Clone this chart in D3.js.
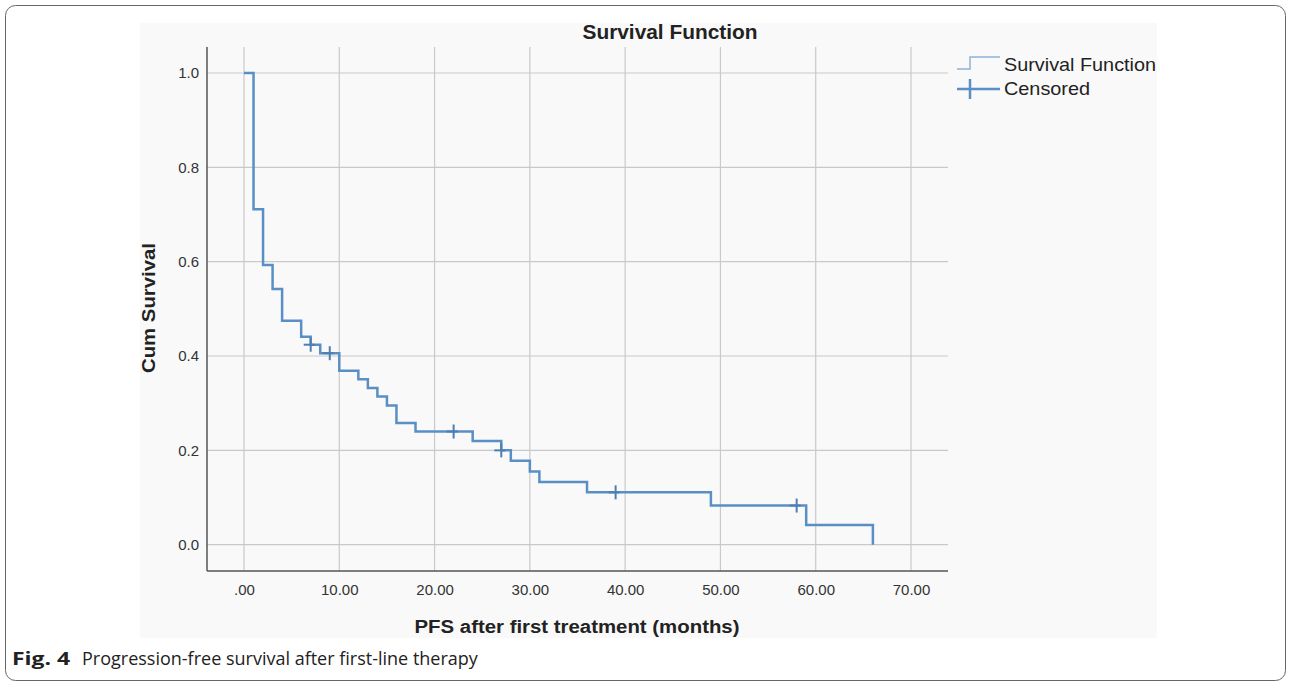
<!doctype html>
<html>
<head>
<script src="https://cdnjs.cloudflare.com/ajax/libs/d3/7.8.5/d3.min.js"></script>
<style>
  body { margin: 0; background: #fff; }
  text { font-family: "Liberation Sans", Arial, sans-serif; fill: #222; }
</style>
</head>
<body>
<svg id="chart" width="1290" height="682"></svg>
<script>
// step times (months) and cumulative survival after each step
var stepTimes = [0, 1, 2, 3, 4, 6, 7, 8, 10, 12, 13, 14, 15, 16, 18, 24, 27, 28, 30, 31, 36, 49, 59, 66];
var stepSurv  = [1.0, 0.711, 0.593, 0.542, 0.475, 0.441, 0.424, 0.406, 0.369, 0.351, 0.332, 0.314, 0.295, 0.258, 0.240, 0.220, 0.200, 0.178, 0.155, 0.133, 0.111, 0.083, 0.042, 0.0];
// censored observations
var censorTimes = [7, 9, 22, 27, 39, 58];
var censorSurv  = [0.424, 0.406, 0.240, 0.200, 0.111, 0.083];

var xTicks = [0, 10, 20, 30, 40, 50, 60, 70];
var yTicks = [0, 0.2, 0.4, 0.6, 0.8, 1.0];

var svg = d3.select("#chart");

// outer frame + grey panel
svg.append("rect").attr("x", 5.5).attr("y", 5.5).attr("width", 1280).attr("height", 675)
  .attr("rx", 10).attr("fill", "#fff").attr("stroke", "#666").attr("stroke-width", 1);
svg.append("rect").attr("x", 140).attr("y", 23).attr("width", 1017).attr("height", 615)
  .attr("fill", "#f9f9f9");

var plotL = 207, plotR = 948, plotT = 47, plotB = 571;
var x = d3.scaleLinear().domain([0, 70]).range([244, 911]);
var y = d3.scaleLinear().domain([0, 1]).range([544.7, 73]);

// grid
svg.append("g").selectAll("line").data(yTicks).enter().append("line")
  .attr("x1", plotL).attr("x2", plotR).attr("y1", d => y(d)).attr("y2", d => y(d))
  .attr("stroke", "#c9c9c9").attr("stroke-width", 1.2);
svg.append("g").selectAll("line").data(xTicks).enter().append("line")
  .attr("x1", d => x(d)).attr("x2", d => x(d)).attr("y1", plotT).attr("y2", plotB)
  .attr("stroke", "#c9c9c9").attr("stroke-width", 1.2);

// axes
var xAxis = d3.axisBottom(x).tickValues(xTicks).tickSize(0).tickPadding(13)
  .tickFormat(d => d === 0 ? ".00" : d3.format(".2f")(d));
svg.append("g").attr("transform", "translate(0," + plotB + ")").call(xAxis)
  .call(g => g.select(".domain").remove())
  .selectAll("text").style("font-size", "15px").style("font-family", "'Liberation Sans', Arial, sans-serif").style("fill", "#333");
var yAxis = d3.axisLeft(y).tickValues(yTicks).tickSize(0).tickPadding(8)
  .tickFormat(d3.format(".1f"));
svg.append("g").attr("transform", "translate(" + plotL + ",0)").call(yAxis)
  .call(g => g.select(".domain").remove())
  .selectAll("text").style("font-size", "15px").style("font-family", "'Liberation Sans', Arial, sans-serif").style("fill", "#333");

svg.append("line").attr("x1", plotL).attr("x2", plotL).attr("y1", plotT).attr("y2", plotB)
  .attr("stroke", "#555").attr("stroke-width", 1.5);
svg.append("line").attr("x1", plotL).attr("x2", plotR).attr("y1", plotB).attr("y2", plotB)
  .attr("stroke", "#555").attr("stroke-width", 1.5);

// survival curve
var pts = stepTimes.map((t, i) => [t, stepSurv[i]]);
var line = d3.line().x(d => x(d[0])).y(d => y(d[1])).curve(d3.curveStepAfter);
svg.append("path").datum(pts).attr("d", line)
  .attr("fill", "none").attr("stroke", "#5a8fc5").attr("stroke-width", 2.5);

// censor marks
var cg = svg.append("g").attr("stroke", "#4f7fb0").attr("stroke-width", 2);
censorTimes.forEach(function(t, i) {
  var cx = x(t), cy = y(censorSurv[i]);
  cg.append("line").attr("x1", cx).attr("x2", cx).attr("y1", cy - 7).attr("y2", cy + 7);
  cg.append("line").attr("x1", cx - 7).attr("x2", cx + 4).attr("y1", cy).attr("y2", cy);
});

// titles
svg.append("text").attr("x", 670).attr("y", 39).attr("text-anchor", "middle")
  .attr("textLength", 175).attr("lengthAdjust", "spacingAndGlyphs")
  .style("font-size", "20px").style("font-weight", "bold").text("Survival Function");
svg.append("text").attr("transform", "translate(155,308) rotate(-90)").attr("text-anchor", "middle")
  .attr("textLength", 130).attr("lengthAdjust", "spacingAndGlyphs")
  .style("font-size", "18px").style("font-weight", "bold").text("Cum Survival");
svg.append("text").attr("x", 577).attr("y", 633).attr("text-anchor", "middle")
  .attr("textLength", 325).attr("lengthAdjust", "spacingAndGlyphs")
  .style("font-size", "18px").style("font-weight", "bold").text("PFS after first treatment (months)");

// legend
var lg = svg.append("g");
lg.append("path").attr("d", "M957,69 H970 V57 H1000")
  .attr("fill", "none").attr("stroke", "#8fb3d6").attr("stroke-width", 1.5);
lg.append("text").attr("x", 1004).attr("y", 71).attr("textLength", 152).attr("lengthAdjust", "spacingAndGlyphs")
  .style("font-size", "18.5px").text("Survival Function");
lg.append("line").attr("x1", 957).attr("x2", 1000).attr("y1", 89).attr("y2", 89)
  .attr("stroke", "#5a8fc5").attr("stroke-width", 2.5);
lg.append("line").attr("x1", 970).attr("x2", 970).attr("y1", 79).attr("y2", 99)
  .attr("stroke", "#5a8fc5").attr("stroke-width", 2.5);
lg.append("text").attr("x", 1004).attr("y", 95).attr("textLength", 86).attr("lengthAdjust", "spacingAndGlyphs")
  .style("font-size", "18.5px").text("Censored");

// caption
var cap = svg.append("g").style("font-family", "'Open Sans', 'Noto Sans', sans-serif").style("font-size", "18px");
cap.append("text").attr("x", 12).attr("y", 665).attr("textLength", 58).attr("lengthAdjust", "spacingAndGlyphs")
  .style("font-weight", "bold").style("font-family", "'Open Sans', 'Noto Sans', sans-serif").text("Fig. 4");
cap.append("text").attr("x", 82).attr("y", 665)
  .style("font-family", "'Open Sans', 'Noto Sans', sans-serif").text("Progression-free survival after first-line therapy");
</script>
</body>
</html>
